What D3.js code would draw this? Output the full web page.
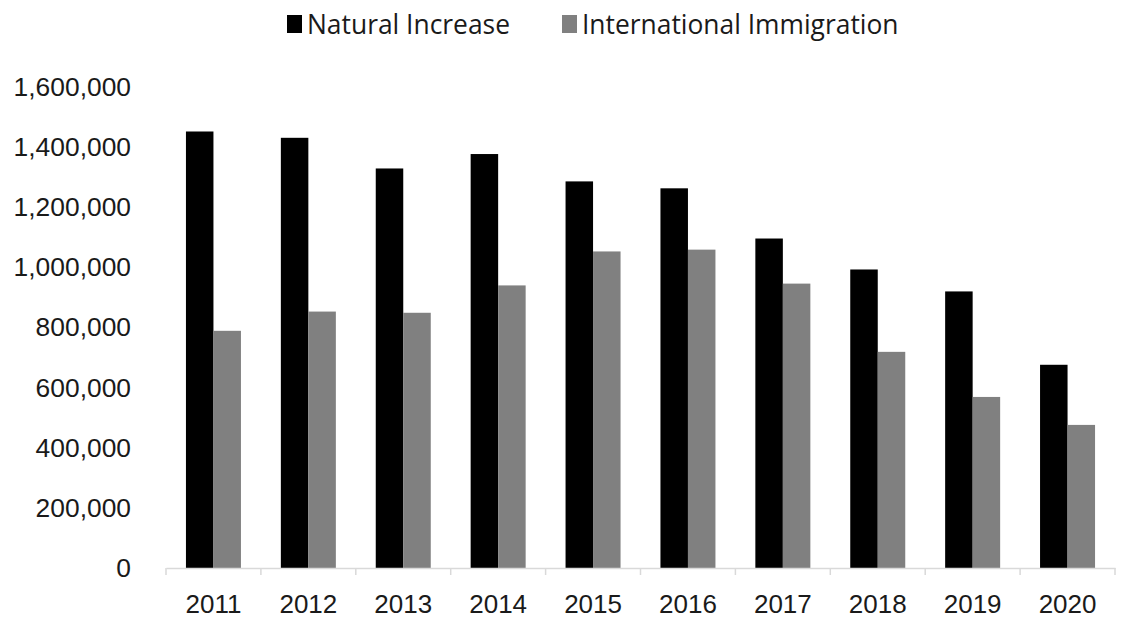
<!DOCTYPE html>
<html>
<head>
<meta charset="utf-8">
<script src="https://cdn.jsdelivr.net/npm/d3@7"></script>
<style>
  html, body { margin: 0; padding: 0; background: #fff; }
  svg { display: block; font-family: "Open Sans", sans-serif; }
</style>
</head>
<body>
<svg id="chart" width="1133" height="620"></svg>
<script>
const years = ["2011","2012","2013","2014","2015","2016","2017","2018","2019","2020"];
const naturalIncrease = [1452000, 1431000, 1329000, 1377000, 1286000, 1263000, 1096000, 993000, 920000, 676000];
const internationalImmigration = [789000, 853000, 849000, 940000, 1053000, 1059000, 946000, 719000, 569000, 476000];
const seriesNames = ["Natural Increase", "International Immigration"];
const seriesColors = ["#000000", "#808080"];
const yTicks = [0, 200000, 400000, 600000, 800000, 1000000, 1200000, 1400000, 1600000];

const svg = d3.select("#chart");
const x0 = d3.scaleBand().domain(years).range([166, 1115]).paddingInner(0).paddingOuter(0);
const x1 = d3.scaleBand().domain(seriesNames).range([0, 55]);
const groupOffset = (x0.bandwidth() - 55) / 2;
const y = d3.scaleLinear().domain([0, 1600000]).range([568, 87]);

const seriesValues = [naturalIncrease, internationalImmigration];

// bars
seriesNames.forEach((name, si) => {
  svg.append("g").selectAll("rect")
    .data(years)
    .join("rect")
    .attr("x", (d) => x0(d) + groupOffset + x1(name))
    .attr("width", x1.bandwidth())
    .attr("y", (d, i) => y(seriesValues[si][i]))
    .attr("height", (d, i) => y(0) - y(seriesValues[si][i]))
    .attr("fill", seriesColors[si]);
});

// x axis
const xAxis = svg.append("g")
  .attr("transform", `translate(0,${y(0)})`)
  .call(d3.axisBottom(x0).tickSize(0).tickSizeOuter(0));
xAxis.select(".domain").attr("stroke", "#d9d9d9").attr("stroke-width", 1.5);
xAxis.selectAll(".tick text")
  .attr("font-size", 26)
  .attr("fill", "#1a1a1a")
  .attr("dy", 0)
  .attr("y", 45);
// boundary tick marks between categories
svg.append("g").selectAll("line")
  .data(years.concat(["end"]))
  .join("line")
  .attr("x1", (d, i) => x0.range()[0] + i * x0.step())
  .attr("x2", (d, i) => x0.range()[0] + i * x0.step())
  .attr("y1", y(0))
  .attr("y2", y(0) + 7)
  .attr("stroke", "#d9d9d9")
  .attr("stroke-width", 1.5);

// y axis labels
const yAxis = svg.append("g")
  .attr("transform", `translate(131,0)`)
  .call(d3.axisLeft(y).tickValues(yTicks).tickSize(0).tickPadding(0).tickFormat(d3.format(",")));
yAxis.select(".domain").remove();
yAxis.selectAll(".tick text")
  .attr("font-size", 26.4)
  .attr("fill", "#1a1a1a");

// legend
const legend = svg.append("g");
const legendX = [287, 562];
seriesNames.forEach((name, i) => {
  legend.append("rect")
    .attr("x", legendX[i]).attr("y", 15)
    .attr("width", 15).attr("height", 18)
    .attr("fill", seriesColors[i]);
  legend.append("text")
    .attr("x", legendX[i] + 20).attr("y", 25)
    .attr("dy", "0.35em")
    .attr("font-size", 26.4)
    .attr("fill", "#1a1a1a")
    .text(name);
});
</script>
</body>
</html>
